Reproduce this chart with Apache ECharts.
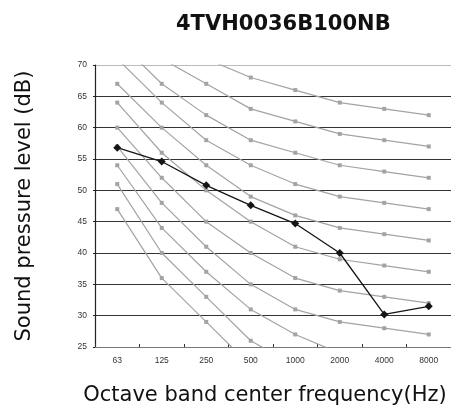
<!DOCTYPE html>
<html><head><meta charset="utf-8">
<script src="https://cdn.jsdelivr.net/npm/echarts@6/dist/echarts.min.js"></script>
<style>html,body{margin:0;padding:0;background:#fff}#c{width:451px;height:411px}</style>
</head><body><div id="c"></div>
<script>
var categories = ['63','125','250','500','1000','2000','4000','8000'];
var nc15 = [47,36,29,22,17,14,12,11];
var nc20 = [51,40,33,26,22,19,17,16];
var nc25 = [54,44,37,31,27,24,22,21];
var nc30 = [57,48,41,35,31,29,28,27];
var nc35 = [60,52,45,40,36,34,33,32];
var nc40 = [64,56,50,45,41,39,38,37];
var nc45 = [67,60,54,49,46,44,43,42];
var nc50 = [71,64,58,54,51,49,48,47];
var nc55 = [74,67,62,58,56,54,53,52];
var nc60 = [77,71,67,63,61,59,58,57];
var nc65 = [80,75,71,68,66,64,63,62];
var measured = [56.8,54.6,50.8,47.6,44.7,40.0,30.2,31.5];
var titleText = '4TVH0036B100NB';
var yName = 'Sound pressure level (dB)';
var xName = 'Octave band center frequency(Hz)';

var ncCurves = [nc15,nc20,nc25,nc30,nc35,nc40,nc45,nc50,nc55,nc60,nc65];
var series = ncCurves.map(function(d){
  return {type:'line', data:d, symbol:'rect', symbolSize:4, clip:true,
    itemStyle:{color:'#a3a3a3'}, lineStyle:{color:'#a3a3a3', width:1.2}, silent:true, z:2};
});
series.push({type:'line', data:measured, symbol:'path://M0,-1L1,0L0,1L-1,0Z', symbolSize:[8,8],
  itemStyle:{color:'#151515'}, lineStyle:{color:'#151515', width:1.3}, z:5});

var chart = echarts.init(document.getElementById('c'), null, {renderer:'canvas'});
chart.setOption({
  animation:false,
  title:{text:titleText, left:171, top:9,
    textStyle:{fontFamily:'DejaVu Sans', fontWeight:'bold', fontSize:21, color:'#111'}},
  grid:{left:95, top:65, right:-9, bottom:62, containLabel:false},
  xAxis:{type:'category', data:categories, boundaryGap:true,
    name:xName, nameLocation:'middle', nameGap:38,
    nameTextStyle:{fontFamily:'DejaVu Sans', fontSize:21, color:'#111', padding:[0,16,0,0]},
    axisLine:{lineStyle:{color:'#777', width:1}},
    axisTick:{show:true, inside:true, length:3, lineStyle:{color:'#333'}},
    axisLabel:{fontFamily:'Liberation Sans', fontSize:8.5, color:'#333', margin:9},
    splitLine:{show:false}},
  yAxis:{type:'value', min:25, max:70, interval:5,
    name:yName, nameLocation:'middle', nameGap:60, nameRotate:90,
    nameTextStyle:{fontFamily:'DejaVu Sans', fontSize:21, color:'#111'},
    axisLine:{show:true, lineStyle:{color:'#222', width:1.2}},
    axisTick:{show:true, length:2, lineStyle:{color:'#222'}},
    axisLabel:{fontFamily:'Liberation Sans', fontSize:8.5, color:'#333', margin:8},
    splitLine:{show:true, lineStyle:{color:['#888','#333','#333','#333','#333','#333','#333','#333','#333','#bbb'], width:1.2}}},
  series:series
});
</script></body></html>
